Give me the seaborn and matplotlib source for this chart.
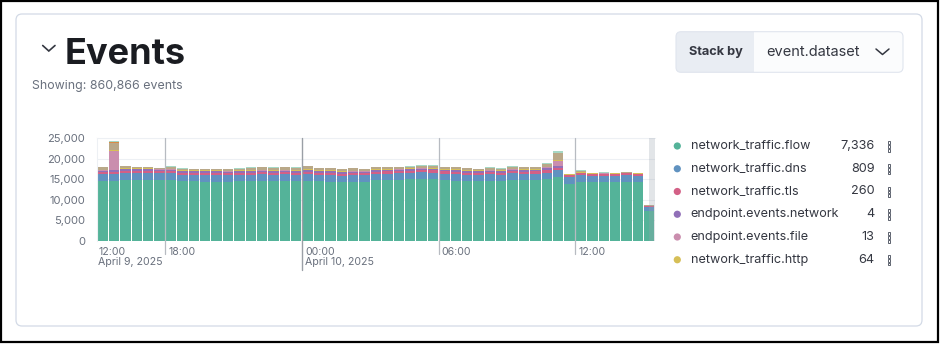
import numpy as np
import pandas as pd
import matplotlib
matplotlib.use("Agg")
import matplotlib.pyplot as plt
import matplotlib.transforms as mtransforms
from matplotlib.patches import FancyBboxPatch, Rectangle, Circle
from matplotlib.lines import Line2D
import seaborn as sns

# ---------------------------------------------------------------------------
# Data: event counts per 30-minute bucket, starting 15:00 on April 9, 2025
# ---------------------------------------------------------------------------
n_buckets = 49
bucket_hours = 15 + 0.5 * np.arange(n_buckets)   # hours since 00:00 April 9

flow = [14600, 14600, 14800, 14800, 14850, 14750, 14800, 14450, 14450, 14400,
        14400, 14350, 14450, 14500, 14550, 14500, 14600, 14500, 14650, 14450,
        14400, 14250, 14300, 14300, 14700, 14750, 14800, 14950, 15050, 15000,
        14750, 14650, 14500, 14450, 14600, 14500, 14800, 14700, 14750, 15050,
        15460, 13900, 14300, 14200, 14250, 14200, 14300, 14200, 7336]
dns = [1600, 1650, 1750, 1750, 1700, 1650, 1600, 1600, 1600, 1600,
       1600, 1600, 1600, 1600, 1600, 1600, 1600, 1600, 1600, 1600,
       1600, 1600, 1600, 1600, 1600, 1600, 1600, 1600, 1600, 1600,
       1600, 1600, 1600, 1600, 1600, 1600, 1600, 1600, 1600, 1550,
       1780, 1750, 1600, 1600, 1600, 1600, 1600, 1600, 809]
tls = [520, 560, 520, 520, 520, 520, 520, 520, 520, 520,
       520, 520, 520, 520, 520, 520, 520, 520, 520, 520,
       520, 520, 520, 520, 520, 520, 520, 520, 520, 520,
       520, 520, 520, 520, 520, 520, 520, 520, 520, 560,
       480, 300, 520, 500, 520, 500, 520, 510, 260]
ep_network = [380, 420, 380, 380, 380, 380, 380, 380, 380, 380,
              380, 380, 380, 380, 380, 380, 380, 380, 380, 380,
              380, 380, 380, 380, 380, 380, 380, 380, 380, 380,
              380, 380, 380, 380, 380, 380, 380, 380, 380, 600,
              500, 100, 100, 10, 10, 10, 10, 10, 4]
ep_file = [90, 4600, 90, 90, 90, 90, 90, 90, 90, 90,
           90, 90, 90, 90, 90, 90, 90, 90, 90, 90,
           90, 90, 90, 90, 90, 90, 90, 90, 90, 90,
           90, 90, 90, 90, 90, 90, 90, 90, 90, 150,
           1290, 30, 40, 20, 30, 20, 30, 30, 13]
http = [130, 240, 130, 130, 130, 130, 130, 130, 130, 130,
        130, 130, 130, 130, 130, 130, 130, 130, 130, 130,
        130, 130, 130, 130, 130, 130, 130, 130, 130, 130,
        130, 130, 130, 130, 130, 130, 130, 130, 130, 160,
        120, 80, 130, 120, 130, 120, 130, 130, 64]
ep_process = [600, 1780, 420, 180, 180, 90, 470, 360, 280, 250,
              250, 380, 360, 550, 580, 550, 610, 550, 720, 440,
              490, 400, 590, 430, 430, 460, 410, 340, 490, 540,
              460, 480, 390, 280, 450, 310, 490, 430, 380, 650,
              1700, 130, 350, 20, 80, 20, 100, 60, 200]
icmp = [40, 100, 40, 40, 40, 40, 40, 40, 40, 40,
        40, 40, 40, 40, 40, 40, 40, 40, 40, 40,
        40, 40, 40, 40, 40, 40, 40, 40, 40, 40,
        40, 40, 40, 40, 40, 40, 40, 40, 40, 50,
        150, 20, 50, 0, 0, 0, 0, 0, 10]
ep_library = [70, 240, 70, 70, 70, 70, 70, 70, 70, 70,
              70, 70, 70, 70, 70, 70, 70, 70, 70, 70,
              70, 70, 70, 70, 70, 70, 70, 70, 70, 70,
              70, 70, 70, 70, 70, 70, 70, 70, 70, 80,
              360, 30, 60, 30, 40, 30, 50, 40, 44]

# stacking order, bottom first
datasets = ["network_traffic.flow", "network_traffic.dns", "network_traffic.tls",
            "endpoint.events.network", "endpoint.events.file", "network_traffic.http",
            "endpoint.events.process", "network_traffic.icmp", "endpoint.events.library"]
series = [flow, dns, tls, ep_network, ep_file, http, ep_process, icmp, ep_library]
colors = ["#54B399", "#6092C0", "#D36086", "#9170B8", "#CA8EAE", "#D6BF57",
          "#B9A888", "#DA8B45", "#A6D8C5"]

legend_names = datasets[:6]
legend_values = ["7,336", "809", "260", "4", "13", "64"]

tick_hours = [15, 18, 24, 30, 36]
tick_line1 = ["12:00", "18:00", "00:00", "06:00", "12:00"]
tick_line2 = ["April 9, 2025", "", "April 10, 2025", "", ""]

y_ticks = [0, 5000, 10000, 15000, 20000, 25000]

records = []
for name, vals in zip(datasets, series):
    for h, v in zip(bucket_hours, vals):
        records.append({"hour": h + 0.25, "count": v, "dataset": name})
df = pd.DataFrame(records)

# ---------------------------------------------------------------------------
# Figure
# ---------------------------------------------------------------------------
sns.set_theme(style="white")
plt.rcParams["font.family"] = ["Inter", "DejaVu Sans"]

W, H = 940, 344
fig = plt.figure(figsize=(W / 100, H / 100), dpi=100)
PX = mtransforms.IdentityTransform()


def P(x, y):
    return (x, H - y)


# outer frame and card (behind everything)
fig.patches.append(Rectangle(P(1, 342), 937, 341, fill=False, ec="black",
                             lw=1.6, transform=PX, zorder=-3))
fig.patches.append(FancyBboxPatch(P(16, 326), 906, 312,
                                  boxstyle="round,pad=0,rounding_size=6",
                                  fc="white", ec="#D3DAE6", lw=0.9,
                                  transform=PX, zorder=-2))

# header
fig.lines.append(Line2D([42.7, 48.8, 55], [H - 45.5, H - 51, H - 45.5],
                        color="#343741", lw=1.2, transform=PX,
                        solid_capstyle="round", solid_joinstyle="miter"))
fig.text(*P(64.5, 64), "Events", transform=PX, fontsize=26, fontweight="bold",
         color="#1A1C21", ha="left", va="baseline")
fig.text(*P(32, 86.5), "Showing: 860,866 events", transform=PX, fontsize=8.9,
         color="#69707D", ha="left", va="center")

# "Stack by" control
fig.patches.append(FancyBboxPatch(P(676, 72.3), 227, 40.6,
                                  boxstyle="round,pad=0,rounding_size=5",
                                  fc="#FBFCFD", ec="none", transform=PX, zorder=1))
fig.patches.append(FancyBboxPatch(P(676, 72.3), 86, 40.6,
                                  boxstyle="round,pad=0,rounding_size=5",
                                  fc="#E9EDF3", ec="none", transform=PX, zorder=1.1))
fig.patches.append(Rectangle(P(754, 72.3), 12, 40.6, fc="#FBFCFD", ec="none",
                             transform=PX, zorder=1.2))
fig.patches.append(FancyBboxPatch(P(676, 72.3), 227, 40.6,
                                  boxstyle="round,pad=0,rounding_size=5",
                                  fill=False, ec="#E0E5EE", lw=0.8,
                                  transform=PX, zorder=1.3))
fig.text(*P(689, 52), "Stack by", transform=PX, fontsize=9.2, fontweight="bold",
         color="#343741", ha="left", va="center")
fig.text(*P(766, 52), "event.dataset", transform=PX, fontsize=10.5,
         color="#343741", ha="left", va="center")
fig.lines.append(Line2D([876, 882.5, 889], [H - 49, H - 54.5, H - 49],
                        color="#343741", lw=1.1, transform=PX,
                        solid_capstyle="round"))

# ---------------------------------------------------------------------------
# Stacked histogram
# ---------------------------------------------------------------------------
ax = fig.add_axes([97 / W, (H - 241) / H, (655 - 97) / W, (241 - 138) / H])
ax.set_zorder(2)
ax.patch.set_alpha(0)
edges = [float(b) for b in bucket_hours] + [float(bucket_hours[-1] + 0.5)]
sns.histplot(data=df, x="hour", weights="count", hue="dataset",
             hue_order=datasets[::-1], palette=dict(zip(datasets, colors)),
             multiple="stack", bins=edges, shrink=0.91, alpha=1,
             linewidth=0, legend=False, ax=ax)

ax.set_xlim(edges[0], edges[-1])
ax.set_ylim(0, 25000)
ax.set_yticks(y_ticks)
ax.set_yticklabels([f"{v:,}" for v in y_ticks])
ax.set_xticks([])
ax.set_xlabel("")
ax.set_ylabel("")
ax.tick_params(axis="y", length=0, pad=8.5, labelsize=8, labelcolor="#69707D")
ax.yaxis.grid(True, color="#EDF0F4", lw=0.8)
ax.set_axisbelow(True)
for side in ["right", "bottom"]:
    ax.spines[side].set_visible(False)
for side in ["top", "left"]:
    ax.spines[side].set_color("#EDF0F4")
    ax.spines[side].set_linewidth(0.8)

# time axis markers
for h, l1, l2 in zip(tick_hours, tick_line1, tick_line2):
    if h != tick_hours[0]:
        lower = -0.28 if l2 else -0.13
        col = "#9A9FA6" if l2 else "#B7BBC1"
        ax.axvline(h, ymin=lower, ymax=1, color=col, lw=1.0 if l2 else 0.9,
                   clip_on=False, zorder=4)
    dx = 1.0 if h == tick_hours[0] else 2.2
    ax.annotate(l1, xy=(h, 0), xycoords=("data", "axes fraction"),
                xytext=(dx, -4.3), textcoords="offset points",
                ha="left", va="top", fontsize=7.6, color="#69707D")
    if l2:
        ax.annotate(l2, xy=(h, 0), xycoords=("data", "axes fraction"),
                    xytext=(dx, -11.5), textcoords="offset points",
                    ha="left", va="top", fontsize=7.6, color="#69707D")

# current, still-filling bucket
ax.axvspan(edges[-1] - 0.25, edges[-1], color="#9AA3AE", alpha=0.28, lw=0, zorder=5)

# ---------------------------------------------------------------------------
# Legend
# ---------------------------------------------------------------------------
for i, (name, val) in enumerate(zip(legend_names, legend_values)):
    yy = 146 + 22.75 * i
    fig.patches.append(Circle(P(677.3, yy), 3.6, fc=colors[i], ec="none",
                              transform=PX))
    fig.text(*P(690.5, yy), name, transform=PX, fontsize=9.1, color="#343741",
             ha="left", va="center")
    fig.text(*P(874.5, yy), val, transform=PX, fontsize=9.1, color="#343741",
             ha="right", va="center")
    for k in range(3):
        fig.patches.append(Rectangle(P(887.6, yy - 4.8 + 3.8 * k + 2.8), 2.8, 2.8,
                                     fill=False, ec="#4F5562", lw=0.65,
                                     transform=PX))

fig.savefig("out.png", dpi=100)
